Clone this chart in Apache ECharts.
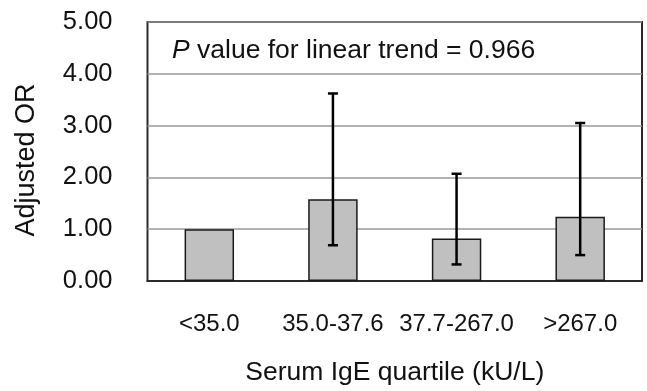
<!DOCTYPE html>
<html>
<head>
<meta charset="utf-8">
<script src="https://cdn.jsdelivr.net/npm/echarts@6/dist/echarts.min.js"></script>
<style>
html,body{margin:0;padding:0;background:#fff;}
#chart{width:647px;height:391px;}
</style>
</head>
<body>
<div id="chart"></div>
<script>
var categories = ['<35.0', '35.0-37.6', '37.7-267.0', '>267.0'];
var orValues = [1.00, 1.58, 0.82, 1.24];
var ciLower = [null, 0.69, 0.32, 0.50];
var ciUpper = [null, 3.62, 2.07, 3.05];
var yTicks = [0, 1, 2, 3, 4, 5];

var FONT = '"Liberation Sans", Arial, sans-serif';
var chart = echarts.init(document.getElementById('chart'), null, {renderer: 'canvas'});

var errData = categories.map(function (c, i) {
  return [i, ciLower[i], ciUpper[i]];
}).filter(function (d) { return d[1] != null; });

chart.setOption({
  animation: false,
  backgroundColor: '#fff',
  grid: {
    left: 147.5, right: 5, top: 22, bottom: 105.7,
    show: true, borderColor: '#2a2a2a', borderWidth: 2, backgroundColor: 'transparent'
  },
  xAxis: {
    type: 'category',
    data: categories,
    axisLine: {show: true, lineStyle: {color: '#2a2a2a', width: 2}},
    axisTick: {show: false},
    axisLabel: {interval: 0, margin: 31, fontSize: 24, color: '#111', fontFamily: FONT},
    name: 'Serum IgE quartile (kU/L)',
    nameLocation: 'middle',
    nameGap: 78,
    nameTextStyle: {fontSize: 26.5, color: '#111', fontFamily: FONT}
  },
  yAxis: {
    type: 'value',
    min: yTicks[0], max: yTicks[yTicks.length - 1], interval: 1,
    axisLine: {show: false},
    axisTick: {show: false},
    axisLabel: {margin: 35, fontSize: 25.5, color: '#111', fontFamily: FONT,
      formatter: function (v) { return v.toFixed(2); }},
    splitLine: {show: true, lineStyle: {color: '#9a9a9a', width: 1.5}}
  },
  graphic: [{
    type: 'text',
    x: 172,
    y: 51,
    style: {
      text: '{i|P} value for linear trend = 0.966',
      font: '26.5px ' + FONT,
      fill: '#111',
      verticalAlign: 'middle',
      rich: {
        i: {fontStyle: 'italic', fontSize: 26.5, fontFamily: FONT, fill: '#111'}
      }
    }
  }, {
    type: 'text',
    x: 27,
    y: 160,
    rotation: Math.PI / 2,
    style: {
      text: 'Adjusted OR',
      font: '27px ' + FONT,
      fill: '#111',
      align: 'center',
      verticalAlign: 'middle'
    }
  }],
  series: [{
    type: 'bar',
    data: orValues,
    barWidth: '40%',
    itemStyle: {color: '#c0c0c0', borderColor: '#1a1a1a', borderWidth: 1.5}
  }, {
    type: 'custom',
    data: errData,
    z: 10,
    renderItem: function (params, api) {
      var x = api.value(0);
      var lo = api.coord([x, api.value(1)]);
      var hi = api.coord([x, api.value(2)]);
      var hw = 5;
      var st = {stroke: '#000', lineWidth: 2.5};
      return {
        type: 'group',
        children: [
          {type: 'line', shape: {x1: lo[0], y1: lo[1], x2: hi[0], y2: hi[1]}, style: st},
          {type: 'line', shape: {x1: hi[0] - hw, y1: hi[1], x2: hi[0] + hw, y2: hi[1]}, style: st},
          {type: 'line', shape: {x1: lo[0] - hw, y1: lo[1], x2: lo[0] + hw, y2: lo[1]}, style: st}
        ]
      };
    }
  }]
});
</script>
</body>
</html>
